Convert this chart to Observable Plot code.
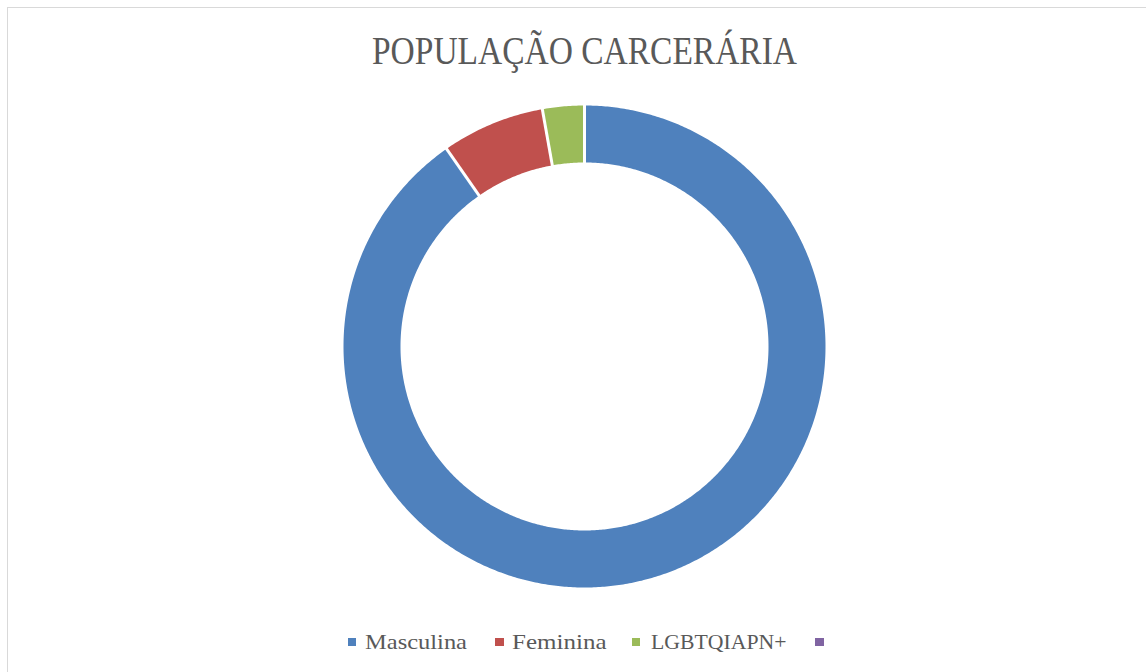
<!DOCTYPE html>
<html><head><meta charset="utf-8">
<script src="https://cdn.jsdelivr.net/npm/d3@7"></script>
<script src="https://cdn.jsdelivr.net/npm/@observablehq/plot@0.6"></script>
<style>
html,body{margin:0;padding:0;background:#fff;overflow:hidden;}
#frame{position:relative;width:1146px;height:672px;overflow:hidden;background:#fff;}
#border{position:absolute;left:7px;top:7px;width:1300px;height:800px;border-left:1.5px solid #d9d9d9;border-top:1.5px solid #d9d9d9;}
.t{position:absolute;white-space:nowrap;font-family:"Liberation Serif",serif;color:#595959;transform-origin:0 50%;}
#title{font-size:40px;line-height:40px;top:30.5px;}
.lg{font-size:22px;line-height:22px;top:631px;}
.sw{position:absolute;width:8.5px;height:8.5px;top:637.8px;}
#chart{position:absolute;left:0;top:96px;}
</style></head>
<body><div id="frame"><div id="border"></div><div id="chart"></div></div>
<script>
// ---- data ----
const title = "POPULAÇÃO CARCERÁRIA";
const categories = ["Masculina", "Feminina", "LGBTQIAPN+", ""];
const values = [90.3, 6.9, 2.8, 0];
const colors = ["#4F81BD", "#C0504D", "#9BBB59", "#8064A2"];

// ---- layout (pixels) ----
const W = 1146, H = 500, CX = 584, CY = 250;
const R_OUT = 241, R_IN = 184;
const titleBox = {left: 372, width: 425};
const legendSwatchX = [347.5, 495.3, 631.8, 815];
const legendTextX = [365, 511.5, 650.7];
const legendTextW = [102, 94.5, 135.5];

const rows = categories.map((c, i) => ({cat: c, value: values[i]}));
const arcs = d3.pie().sort(null).value(d => d.value)(rows);

const pts = [];
for (const a of arcs) {
  if (a.endAngle - a.startAngle <= 0) continue;
  const n = Math.max(4, Math.ceil((a.endAngle - a.startAngle) / (Math.PI / 360)));
  for (let k = 0; k <= n; k++) {
    const t = a.startAngle + (a.endAngle - a.startAngle) * k / n;
    pts.push({cat: a.data.cat, x: R_OUT * Math.sin(t), y: R_OUT * Math.cos(t)});
  }
  for (let k = n; k >= 0; k--) {
    const t = a.startAngle + (a.endAngle - a.startAngle) * k / n;
    pts.push({cat: a.data.cat, x: R_IN * Math.sin(t), y: R_IN * Math.cos(t)});
  }
}
const seps = arcs.filter(a => a.endAngle > a.startAngle).map(a => ({
  x1: (R_IN - 3) * Math.sin(a.startAngle), y1: (R_IN - 3) * Math.cos(a.startAngle),
  x2: (R_OUT + 3) * Math.sin(a.startAngle), y2: (R_OUT + 3) * Math.cos(a.startAngle)
}));

const plot = Plot.plot({
  width: W, height: H, margin: 0,
  x: {domain: [-CX, W - CX], axis: null},
  y: {domain: [-(H - CY), CY], axis: null},
  color: {domain: categories, range: colors},
  marks: [
    Plot.line(pts, {x: "x", y: "y", z: "cat", fill: "cat", stroke: "none", curve: "linear"}),
    Plot.link(seps, {x1: "x1", y1: "y1", x2: "x2", y2: "y2", stroke: "white", strokeWidth: 3})
  ]
});
document.getElementById("chart").appendChild(plot);

const frame = document.getElementById("frame");
function addText(txt, cls, left, w, id) {
  const s = document.createElement("span");
  s.className = "t " + cls; if (id) s.id = id;
  s.textContent = txt; s.style.left = left + "px";
  frame.appendChild(s);
  const cw = s.getBoundingClientRect().width;
  if (cw > 0) s.style.transform = `scaleX(${w / cw})`;
}
addText(title, "", titleBox.left, titleBox.width, "title");
categories.forEach((c, i) => {
  const sw = document.createElement("div");
  sw.className = "sw"; sw.style.left = legendSwatchX[i] + "px"; sw.style.background = colors[i];
  frame.appendChild(sw);
  if (c) addText(c, "lg", legendTextX[i], legendTextW[i]);
});
</script></body></html>
